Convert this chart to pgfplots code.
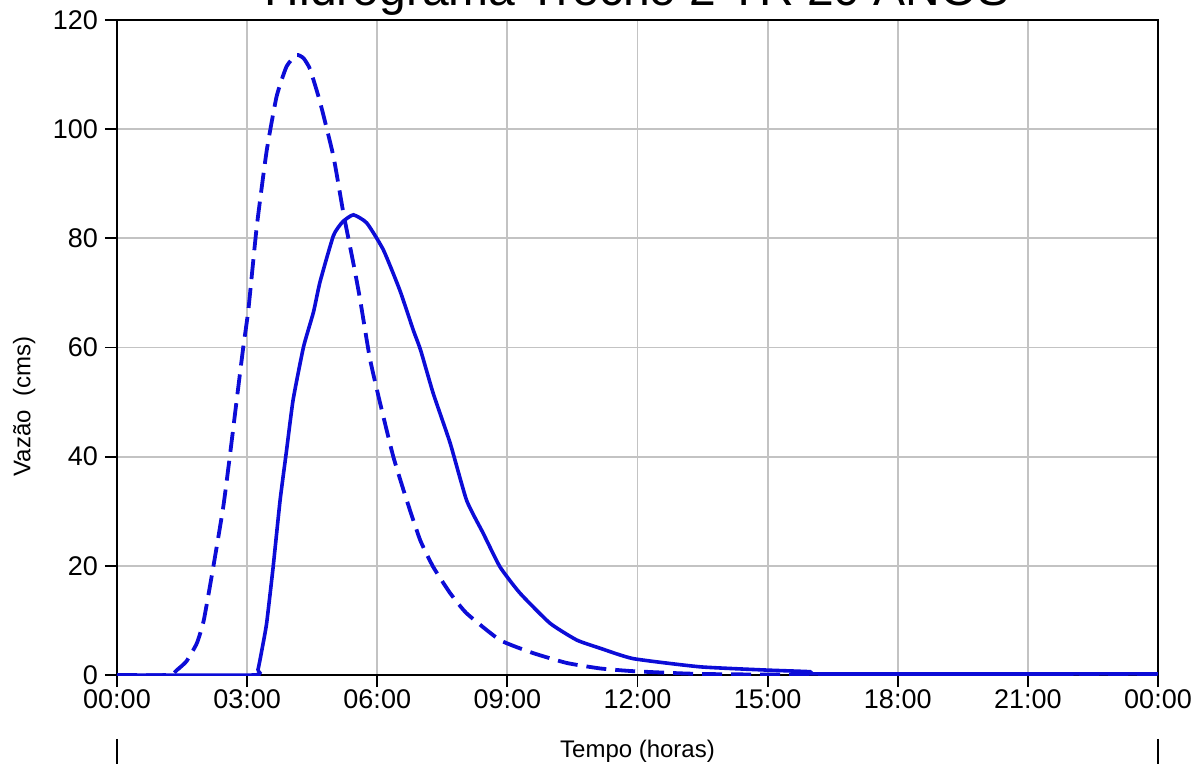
\documentclass[border=0pt]{standalone}
\usepackage{fontspec}
\setmainfont{Liberation Sans}
\usepackage{pgfplots}
\pgfplotsset{compat=1.18}
\definecolor{hb}{RGB}{12,12,215}
\definecolor{gr}{RGB}{195,195,195}
\begin{document}
\begin{tikzpicture}
\begin{axis}[
  scale only axis,
  width=520.5pt, height=327.5pt,
  xmin=0, xmax=24, ymin=0, ymax=120,
  xtick={0,3,...,24},
  xticklabels={00:00,03:00,06:00,09:00,12:00,15:00,18:00,21:00,00:00},
  ytick={0,20,...,120},
  xtick pos=bottom, ytick pos=left,
  tick align=outside,
  major tick length=6pt,
  tick style={black, line width=0.9pt},
  grid=major,
  major grid style={gr, line width=0.9pt},
  axis line style={black, line width=1pt},
  /pgf/number format/assume math mode=true,
  ticklabel style={font=\fontsize{13.5}{15}\selectfont},
  xticklabel style={yshift=2pt},
  xlabel={Tempo (horas)},
  ylabel={Vazão\ \ (cms)},
  label style={font=\fontsize{12}{14}\selectfont},
  xlabel style={at={(axis description cs:0.5,-0.1252)}, anchor=base},
  ylabel style={at={(axis description cs:-0.0893,0.41)}, anchor=center},
]
\addplot[hb, line width=1.9pt, dash pattern=on 10pt off 4.5pt, smooth, tension=0.3] table {
0 0
1.2 0
1.38 0.9
1.6 2.5
1.84 5.8
2.0 10
2.22 19.8
2.45 30.8
2.60 40
2.76 50.4
2.91 60
3.03 67
3.22 82
3.45 96
3.68 106
3.91 111.5
4.14 113.6
4.30 113
4.45 111
4.68 105
4.99 95
5.22 84.6
5.45 75.4
5.60 69
5.83 58
6.06 50
6.37 40
6.68 32
6.99 24.7
7.29 19.8
7.68 15
8.06 11.3
8.83 6.4
9.60 4
10.37 2.2
11.14 1.2
11.9 0.7
13.2 0.25
14.8 0.1
24 0.1
};
\addplot[hb, line width=1.8pt, smooth, tension=0.3] table {
0 0
3.15 0
3.25 1
3.35 5
3.45 9.5
3.60 19.8
3.76 32
3.91 41.2
4.06 50.4
4.30 60.1
4.53 66.5
4.68 72
4.99 80.5
5.2 83
5.45 84.3
5.76 82.8
6.14 77.9
6.52 70.5
6.83 63.2
7.0 59.5
7.29 51.6
7.68 42.5
8.06 32
8.44 26
8.83 19.8
9.29 15
9.98 9.5
10.6 6.4
11.14 4.9
11.9 3.0
13.44 1.5
14.98 0.9
15.98 0.6
16.1 0.2
24 0.2
};
\end{axis}
\node[anchor=base, font=\fontsize{24}{28}\selectfont] at (260.25pt,334.5pt) {Hidrograma Trecho 2 TR 20 ANOS};
\draw[black, line width=1pt] (0,-32pt) -- (0,-46pt);
\draw[black, line width=1pt] (520.5pt,-32pt) -- (520.5pt,-46pt);
\pgfresetboundingbox
\useasboundingbox (-58.5pt,-44.5pt) rectangle (540pt,337.5pt);
\end{tikzpicture}
\end{document}
